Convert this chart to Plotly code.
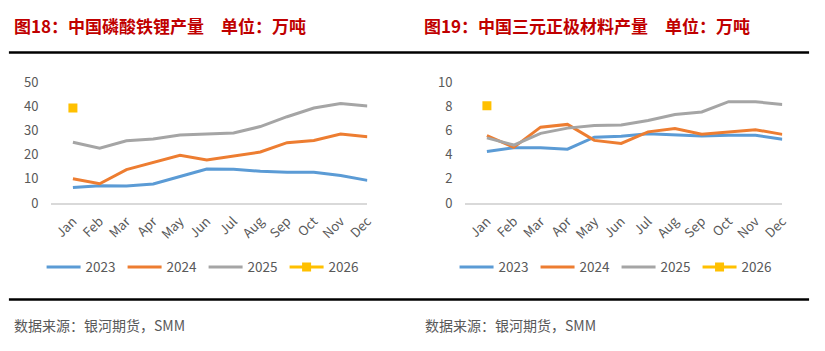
import plotly.graph_objects as go

months = ["Jan", "Feb", "Mar", "Apr", "May", "Jun", "Jul", "Aug", "Sep", "Oct", "Nov", "Dec"]

# 图18：中国磷酸铁锂产量（万吨）
lfp_2023 = [6.4, 7.2, 7.1, 7.9, 11.0, 14.1, 14.0, 13.2, 12.8, 12.8, 11.4, 9.4]
lfp_2024 = [10.1, 8.0, 13.9, 16.9, 19.8, 17.9, 19.4, 21.2, 25.1, 26.0, 28.7, 27.6]
lfp_2025 = [25.3, 22.8, 25.9, 26.6, 28.3, 28.7, 29.1, 31.8, 35.9, 39.5, 41.4, 40.4]
lfp_2026 = [39.5]

# 图19：中国三元正极材料产量（万吨）
ncm_2023 = [4.29, 4.60, 4.60, 4.48, 5.47, 5.55, 5.76, 5.68, 5.58, 5.63, 5.63, 5.31]
ncm_2024 = [5.60, 4.63, 6.31, 6.54, 5.21, 4.95, 5.92, 6.20, 5.73, 5.92, 6.10, 5.71]
ncm_2025 = [5.42, 4.82, 5.79, 6.23, 6.44, 6.49, 6.86, 7.36, 7.57, 8.43, 8.43, 8.19]
ncm_2026 = [8.09]

years = ["2023", "2024", "2025", "2026"]
colors = ["#5B9BD5", "#ED7D31", "#A5A5A5", "#FFC000"]

W, H = 825, 351
TXT = "#595959"
FONT = "Noto Sans CJK SC"

fig = go.Figure()

def add_chart(series, xa, ya, legend):
    for i, (name, vals) in enumerate(zip(years, series)):
        if name == "2026":
            fig.add_trace(go.Scatter(
                x=months[:len(vals)], y=vals, name=name, mode="lines+markers",
                line=dict(color=colors[i], width=3),
                marker=dict(symbol="square", size=9, color=colors[i]),
                xaxis=xa, yaxis=ya, legend=legend))
        else:
            fig.add_trace(go.Scatter(
                x=months, y=vals, name=name, mode="lines",
                line=dict(color=colors[i], width=3),
                xaxis=xa, yaxis=ya, legend=legend))

add_chart([lfp_2023, lfp_2024, lfp_2025, lfp_2026], "x", "y", "legend")
add_chart([ncm_2023, ncm_2024, ncm_2025, ncm_2026], "x2", "y2", "legend2")

ydom = [1 - 204 / H, 1 - 77 / H]
xcommon = dict(type="category", categoryarray=months, showgrid=False,
               showline=True, linecolor="#D9D9D9", linewidth=1.5,
               ticks="", tickangle=-45, ticklabelstandoff=4,
               tickfont=dict(family=FONT, size=13, color=TXT), fixedrange=True)
ycommon = dict(showgrid=False, zeroline=False, showline=False, ticks="",
               ticklabelstandoff=12,
               tickfont=dict(family=FONT, size=13, color=TXT), fixedrange=True)

legfont = dict(family=FONT, size=13.5, color=TXT)
fig.update_layout(
    width=W, height=H,
    margin=dict(l=0, r=0, t=0, b=0),
    paper_bgcolor="white", plot_bgcolor="white",
    font=dict(family=FONT, color=TXT),
    xaxis=dict(domain=[52 / W, 371 / W], anchor="y", **xcommon),
    yaxis=dict(domain=ydom, anchor="x", range=[0, 50], dtick=10, **ycommon),
    xaxis2=dict(domain=[470 / W, 790 / W], anchor="y2", **xcommon),
    yaxis2=dict(domain=ydom, anchor="x2", range=[0, 10], dtick=2, **ycommon),
    legend=dict(orientation="h", x=42 / W, y=1 - 272 / H, xanchor="left", yanchor="middle",
                entrywidth=32, entrywidthmode="pixels", itemwidth=34,
                font=legfont, bgcolor="rgba(0,0,0,0)"),
    legend2=dict(orientation="h", x=459 / W, y=1 - 272 / H, xanchor="left", yanchor="middle",
                 entrywidth=32, entrywidthmode="pixels", itemwidth=34,
                 font=legfont, bgcolor="rgba(0,0,0,0)"),
    showlegend=True,
)

# titles
title_font = dict(family=FONT, size=17, color="#C00000")
fig.add_annotation(text="<b>图18：中国磷酸铁锂产量　单位：万吨</b>", xref="paper", yref="paper",
                   x=12 / W, y=1 - 16 / H, xanchor="left", yanchor="middle",
                   showarrow=False, font=title_font)
fig.add_annotation(text="<b>图19：中国三元正极材料产量　单位：万吨</b>", xref="paper", yref="paper",
                   x=426 / W, y=1 - 16 / H, xanchor="left", yanchor="middle",
                   showarrow=False, font=title_font)

# source notes
src_font = dict(family=FONT, size=14, color=TXT)
for x0 in (12, 427):
    fig.add_annotation(text="数据来源：银河期货，SMM", xref="paper", yref="paper",
                       x=x0 / W, y=1 - 333 / H, xanchor="left", yanchor="middle",
                       showarrow=False, font=src_font)

# separator rules
for yy in (45, 306):
    fig.add_shape(type="line", xref="paper", yref="paper",
                  x0=9 / W, x1=817 / W, y0=1 - yy / H, y1=1 - yy / H,
                  line=dict(color="black", width=2.5))

fig.write_html("out.html")
